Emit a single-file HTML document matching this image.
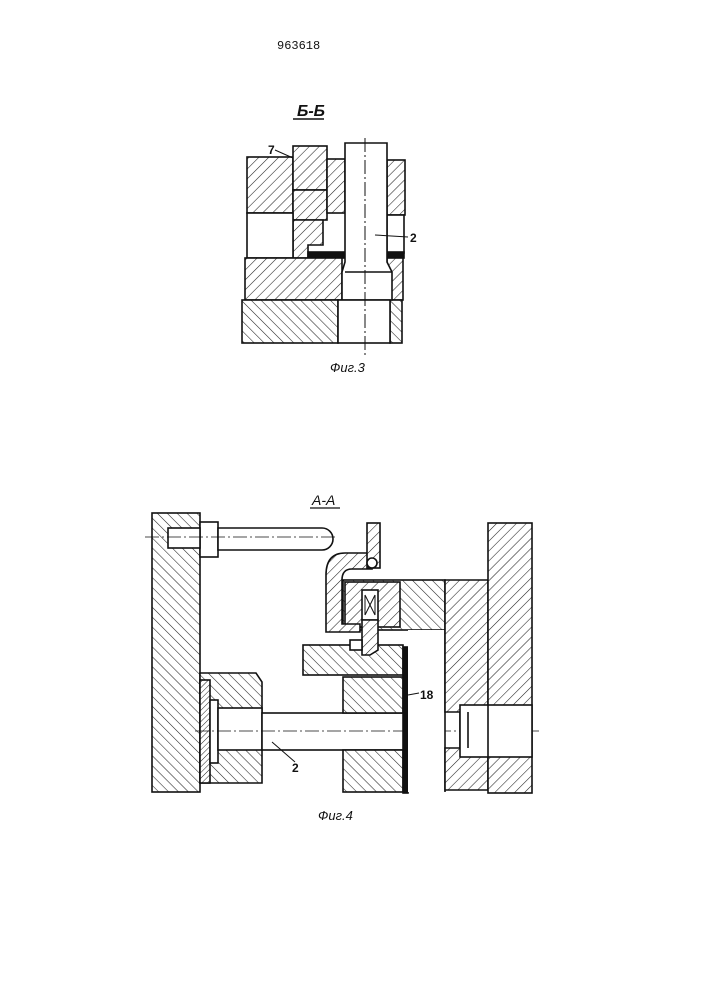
<!DOCTYPE html>
<html><head><style>body{margin:0;background:#fff}svg{display:block}</style></head><body>
<svg width="707" height="1000" viewBox="0 0 707 1000" xmlns="http://www.w3.org/2000/svg" font-family="Liberation Sans, sans-serif">
<defs>
<pattern id="h1" width="7" height="7" patternUnits="userSpaceOnUse" patternTransform="rotate(45)"><rect width="7" height="7" fill="#fff"/><line x1="0" y1="0" x2="0" y2="7" stroke="#222" stroke-width="1.1"/></pattern>
<pattern id="h2" width="7" height="7" patternUnits="userSpaceOnUse" patternTransform="rotate(-45)"><rect width="7" height="7" fill="#fff"/><line x1="0" y1="0" x2="0" y2="7" stroke="#222" stroke-width="1.1"/></pattern>
<pattern id="h3" width="4" height="4" patternUnits="userSpaceOnUse" patternTransform="rotate(45)"><rect width="4" height="4" fill="#fff"/><line x1="0" y1="0" x2="0" y2="4" stroke="#222" stroke-width="1"/></pattern>
</defs>
<g stroke="#111" stroke-width="1.6">
<text x="277" y="49" font-size="12" stroke="none" fill="#111" font-family="Liberation Mono, monospace">963618</text>

<!-- Fig 3 -->
<text x="297" y="116" font-size="16" font-weight="bold" font-style="italic" stroke="none" fill="#111">Б-Б</text>
<line x1="293" y1="119" x2="324" y2="119" stroke-width="1.5"/>
<rect x="247" y="157" width="46" height="56" fill="url(#h1)"/>
<rect x="293" y="146" width="34" height="44" fill="url(#h1)"/>
<rect x="293" y="190" width="34" height="30" fill="url(#h1)"/>
<path d="M293 220 H323 V245 H308 V258 H293 Z" fill="url(#h1)"/>
<rect x="327" y="159" width="18" height="54" fill="url(#h1)"/>
<rect x="387" y="160" width="18" height="55" fill="url(#h1)"/>
<rect x="247" y="213" width="46" height="45" fill="#fff"/>
<rect x="387" y="215" width="17" height="38" fill="#fff"/>
<rect x="308" y="252" width="37" height="6" fill="#111"/>
<rect x="387" y="252" width="17" height="6" fill="#111"/>
<rect x="245" y="258" width="97" height="42" fill="url(#h1)"/>
<rect x="387" y="258" width="16" height="42" fill="url(#h1)"/>
<rect x="242" y="300" width="96" height="43" fill="url(#h2)"/>
<rect x="390" y="300" width="12" height="43" fill="url(#h2)"/>
<path d="M345 143 H387 V262 L392 272 V300 H342 V272 L345 262 Z" fill="#fff"/>
<line x1="345" y1="272" x2="392" y2="272"/>
<rect x="338" y="300" width="52" height="43" fill="#fff"/>
<line x1="365" y1="138" x2="365" y2="357" stroke-width="1" stroke-dasharray="14,3,2,3"/>
<line x1="275" y1="150" x2="293" y2="158" stroke-width="1"/>
<text x="268" y="154" font-size="12" font-weight="bold" stroke="none" fill="#111">7</text>
<line x1="375" y1="235" x2="408" y2="237" stroke-width="1"/>
<text x="410" y="242" font-size="12" font-weight="bold" stroke="none" fill="#111">2</text>
<text x="330" y="372" font-size="13" font-style="italic" stroke="none" fill="#111">Фиг.3</text>

<!-- Fig 4 -->
<text x="312" y="505" font-size="14" font-style="italic" stroke="none" fill="#111">A-A</text>
<line x1="310" y1="508" x2="340" y2="508" stroke-width="1.2"/>
<rect x="152" y="513" width="48" height="279" fill="url(#h2)"/>
<rect x="200" y="522" width="18" height="35" fill="#fff"/>
<rect x="168" y="528" width="32" height="20" fill="#fff"/>
<path d="M218 528 H322 A11 11 0 0 1 322 550 H218 Z" fill="#fff"/>
<line x1="145" y1="537" x2="335" y2="537" stroke-width="0.8" stroke-dasharray="14,3,2,3"/>
<path d="M200 673 H256 L262 682 V783 H200 Z" fill="url(#h2)"/>
<rect x="200" y="680" width="10" height="103" fill="url(#h3)"/>
<rect x="210" y="700" width="8" height="63" fill="#fff"/>
<rect x="218" y="708" width="44" height="42" fill="#fff"/>
<rect x="262" y="713" width="145" height="37" fill="#fff"/>
<line x1="195" y1="731" x2="540" y2="731" stroke-width="0.8" stroke-dasharray="14,3,2,3"/>
<line x1="272" y1="742" x2="295" y2="762" stroke-width="1"/>
<text x="292" y="772" font-size="12" font-weight="bold" stroke="none" fill="#111">2</text>
<rect x="343" y="677" width="60" height="36" fill="url(#h2)"/>
<rect x="343" y="750" width="60" height="42" fill="url(#h2)"/>
<rect x="303" y="645" width="100" height="30" fill="url(#h2)"/>
<rect x="403" y="647" width="5" height="146" fill="#111"/>
<rect x="408" y="648" width="7" height="27" fill="#fff"/>
<rect x="343" y="580" width="102" height="50" fill="url(#h2)"/>
<rect x="408" y="630" width="37" height="162" fill="#fff" stroke="none"/>
<line x1="445" y1="630" x2="445" y2="792"/>
<path d="M445 580 H488 V790 H445 V748 H460 V712 H445 Z" fill="url(#h1)"/>
<rect x="488" y="523" width="44" height="270" fill="url(#h1)"/>
<rect x="460" y="705" width="72" height="52" fill="#fff"/>
<line x1="488" y1="705" x2="488" y2="757"/>
<line x1="468" y1="712" x2="468" y2="748"/>
<rect x="345" y="582" width="55" height="45" fill="url(#h1)"/>
<path d="M370 553 H345 Q326 553 326 575 V632 H360 V624 H342 V580 Q342 569 352 569 H372 Z" fill="url(#h1)"/>
<rect x="367" y="523" width="13" height="45" fill="url(#h1)"/>
<circle cx="372" cy="563" r="5" fill="#fff"/>
<rect x="362" y="590" width="16" height="30" fill="#fff"/>
<path d="M365 595 L375 615 M375 595 L365 615 M365 595 V615 M375 595 V615" stroke-width="1"/>
<path d="M362 620 H378 V650 L370 655 H362 Z" fill="url(#h1)"/>
<rect x="350" y="640" width="12" height="10" fill="#fff"/>
<text x="420" y="699" font-size="12" font-weight="bold" stroke="none" fill="#111">18</text>
<line x1="408" y1="695" x2="419" y2="693" stroke-width="1"/>
<text x="318" y="820" font-size="13" font-style="italic" stroke="none" fill="#111">Фиг.4</text>
</g>
</svg>
</body></html>
